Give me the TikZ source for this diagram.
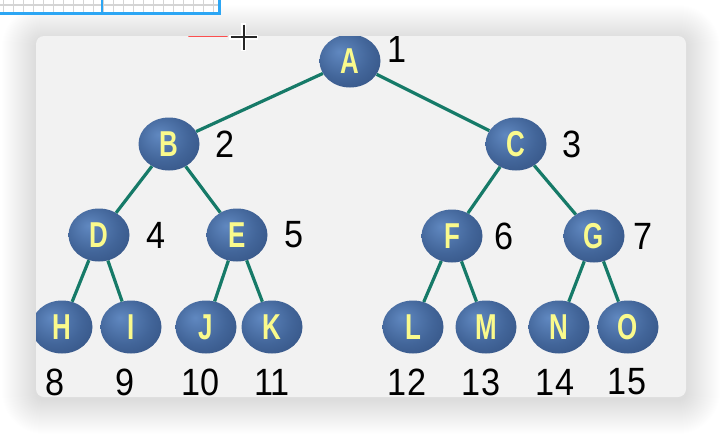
\documentclass[tikz,border=0pt]{standalone}
\usepackage{fontspec}
\setmainfont{Liberation Sans}
\newfontfamily\numfont[FakeStretch=0.9]{Liberation Sans}
\newfontfamily\letfont[FakeStretch=0.72]{Liberation Sans}
\usetikzlibrary{shapes.geometric}
\definecolor{nlight}{RGB}{96,136,192}
\definecolor{nmid}{RGB}{66,101,153}
\definecolor{ndark}{RGB}{46,75,122}
\definecolor{nedge}{RGB}{34,54,90}
\definecolor{edgecol}{RGB}{22,122,104}
\definecolor{letcol}{RGB}{250,250,140}
\definecolor{panel}{RGB}{242,242,242}
\definecolor{gridblue}{RGB}{44,166,244}
\pgfdeclareradialshading{nodeball}{\pgfpoint{-9bp}{9bp}}{color(0bp)=(nlight); color(22bp)=(nmid); color(44bp)=(ndark); color(62bp)=(nedge)}
\tikzset{
  tnode/.style={ellipse, minimum width=61pt, minimum height=53pt, inner sep=0pt,
    shading=nodeball, font=\letfont\bfseries\fontsize{36}{38}\selectfont, text=letcol},
  edge/.style={draw=edgecol, line width=3.2pt},
  num/.style={font=\numfont\fontsize{38}{40}\selectfont, text=black, inner sep=0pt}
}
\newcommand{\lt}[1]{\raisebox{-3pt}{#1}}
\begin{document}
\begin{tikzpicture}[x=1pt,y=-1pt]
\useasboundingbox (0,0) rectangle (722,434);
\fill[white] (0,0) rectangle (722,434);
% shadow
\foreach \i [evaluate=\i as \r using 8+\i] in {1,...,34} {
  \fill[black,opacity=0.0048,rounded corners=\r pt] (36-\i,39-\i) rectangle (686+\i,400+\i);
}
% grid fragment at top
\fill[white] (0,0) rectangle (220,13);
\foreach \x in {3.5,13.5,...,213.5} \draw[black!17, line width=1.2pt] (\x,0) -- (\x,12);
\draw[black!17, line width=1.2pt] (0,5) -- (220,5);
\draw[gridblue, line width=3.5pt] (0,13.5) -- (219.5,13.5) -- (219.5,0);
\draw[gridblue, line width=2pt] (102,0) -- (102,13.5);
% panel
\fill[panel, rounded corners=8pt] (36,36) rectangle (686,397);
% red mark and cursor
\draw[red!85!white, line width=1.6pt, opacity=0.8, line cap=round] (189,36.5) -- (227,36.5);
\draw[white, line width=5pt] (229,37) -- (258,37) (243.5,23) -- (243.5,51);
\draw[black!85, line width=2pt] (230.5,37) -- (256.5,37) (243.5,24.5) -- (243.5,49.5);
\begin{scope}
\clip[rounded corners=8pt] (36,36) rectangle (686,397);
\node[tnode] (A) at (350,61) {\lt{A}};
\node[tnode] (B) at (169,144) {\lt{B}};
\node[tnode] (C) at (516,144) {\lt{C}};
\node[tnode] (D) at (99,235) {\lt{D}};
\node[tnode] (E) at (237,235) {\lt{E}};
\node[tnode] (F) at (452,236) {\lt{F}};
\node[tnode] (G) at (594,236) {\lt{G}};
\node[tnode] (H) at (62,327) {\lt{H}};
\node[tnode] (I) at (131,327) {\lt{I}};
\node[tnode] (J) at (206,327) {\lt{J}};
\node[tnode] (K) at (272,327) {\lt{K}};
\node[tnode] (L) at (413,327) {\lt{L}};
\node[tnode] (M) at (486,327) {\lt{M}};
\node[tnode] (N) at (559,327) {\lt{N}};
\node[tnode] (O) at (628,327) {\lt{O}};
\draw[edge] (A) -- (B);
\draw[edge] (A) -- (C);
\draw[edge] (B) -- (D);
\draw[edge] (B) -- (E);
\draw[edge] (C) -- (F);
\draw[edge] (C) -- (G);
\draw[edge] (D) -- (H);
\draw[edge] (D) -- (I);
\draw[edge] (E) -- (J);
\draw[edge] (E) -- (K);
\draw[edge] (F) -- (L);
\draw[edge] (F) -- (M);
\draw[edge] (G) -- (N);
\draw[edge] (G) -- (O);
\node[num] (n1) at (397,49) {1};
\node[num] (n2) at (225,144) {2};
\node[num] (n3) at (572,144) {3};
\node[num] (n4) at (156,235) {4};
\node[num] (n5) at (294,235) {5};
\node[num] (n6) at (504,236) {6};
\node[num] (n7) at (643,236) {7};
\node[num] (n8) at (55,382) {8};
\node[num] (n9) at (125,382) {9};
\node[num] (n10) at (201,382) {10};
\node[num] (n11) at (272,382) {11};
\node[num] (n12) at (407,382) {12};
\node[num] (n13) at (481,382) {13};
\node[num] (n14) at (555,382) {14};
\node[num] (n15) at (627,382) {15};
\end{scope}
\end{tikzpicture}
\end{document}
